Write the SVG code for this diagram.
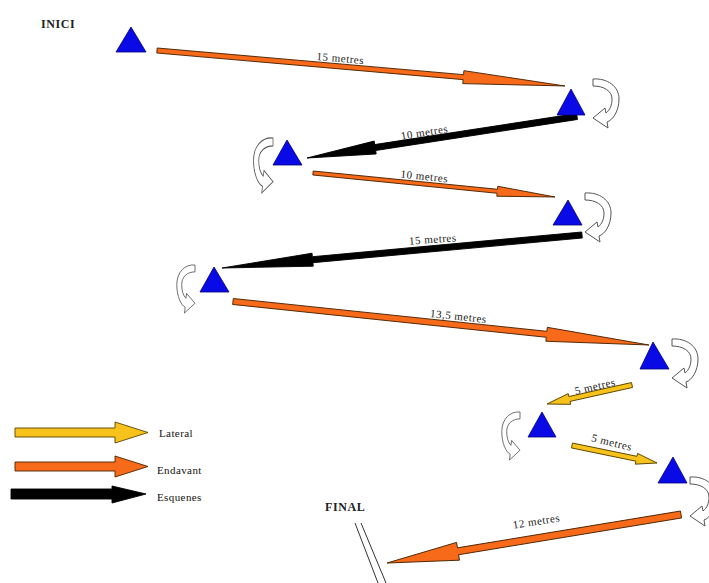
<svg xmlns="http://www.w3.org/2000/svg" width="709" height="583" viewBox="0 0 709 583">
<style>
.tri{fill:#0a0ae6;stroke:#00007a;stroke-width:0.8}
.fwd{fill:#f66a1a;stroke:#4a2200;stroke-width:0.9}
.back{fill:#000;stroke:#000;stroke-width:0.9}
.lat{fill:#f8c21c;stroke:#5a4400;stroke-width:0.9}
.turn{fill:#fff;stroke:#555;stroke-width:1;vector-effect:non-scaling-stroke}
.lbl{font-family:"Liberation Serif","Times New Roman",serif;font-size:11px;letter-spacing:0.5px;fill:#222;text-anchor:middle}
.leg{font-family:"Liberation Serif","Times New Roman",serif;font-size:11px;letter-spacing:0.4px;fill:#111}
.ttl{font-family:"Liberation Serif","Times New Roman",serif;font-size:12px;font-weight:bold;letter-spacing:0.6px;fill:#222}
</style>
<defs>
<path id="turnR" d="M0,0 C14,-1 26,7 26,20 C26,32 20,41 14,43 L15,49 L0,39 L12,29 L13,34 C17,31 19,26 19,20 C19,12 11,7 0,7 Z"/>
</defs>
<rect width="709" height="583" fill="#fff"/>
<text class="ttl" x="41" y="28">INICI</text>
<text class="ttl" x="325" y="511">FINAL</text>
<g id="final-mark" stroke="#333" stroke-width="1">
<line x1="355" y1="523" x2="378" y2="583"/>
<line x1="361" y1="523" x2="386" y2="583"/>
</g>
<g id="connectors">
<polygon class="fwd" transform="translate(157,50.5) rotate(4.97)" points="0,-2.5 307.5,-2.5 307.5,-6.5 409.5,0 307.5,6.5 307.5,2.5 0,2.5"/>
<polygon class="back" transform="translate(577,116.5) rotate(171.26)" points="0,-3 204.2,-3 204.2,-6.5 273.2,0 204.2,6.5 204.2,3 0,3"/>
<polygon class="fwd" transform="translate(313,173) rotate(5.66)" points="0,-2 185.2,-2 185.2,-5 243.2,0 185.2,5 185.2,2 0,2"/>
<polygon class="back" transform="translate(582,235) rotate(174.76)" points="0,-3 270.5,-3 270.5,-6.5 361.5,0 270.5,6.5 270.5,3 0,3"/>
<polygon class="fwd" transform="translate(233,301.5) rotate(5.97)" points="0,-3 315.3,-3 315.3,-7 418.3,0 315.3,7 315.3,3 0,3"/>
<polygon class="lat" transform="translate(632,385) rotate(167.4)" points="0,-2.5 64.1,-2.5 64.1,-5.5 87.1,0 64.1,5.5 64.1,2.5 0,2.5"/>
<polygon class="lat" transform="translate(572,445.5) rotate(11.63)" points="0,-2.5 65.8,-2.5 65.8,-5.5 86.8,0 65.8,5.5 65.8,2.5 0,2.5"/>
<polygon class="fwd" transform="translate(681,514.5) rotate(170.63)" points="0,-3.5 226,-3.5 226,-9 298,0 226,9 226,3.5 0,3.5"/>
<text class="lbl" transform="translate(340,62) rotate(5)">15 metres</text>
<text class="lbl" transform="translate(425,136) rotate(-9)">10 metres</text>
<text class="lbl" transform="translate(424,180) rotate(6)">10 metres</text>
<text class="lbl" transform="translate(433,243) rotate(-4)">15 metres</text>
<text class="lbl" transform="translate(458,320) rotate(6)">13,5 metres</text>
<text class="lbl" transform="translate(596,390) rotate(-13)">5 metres</text>
<text class="lbl" transform="translate(611,446) rotate(14)">5 metres</text>
<text class="lbl" transform="translate(537,525) rotate(-9)">12 metres</text>
</g>
<g id="p1"><polygon class="tri" points="131,27 116,52 146,52"/></g>
<g id="p2"><polygon class="tri" points="571,89 557,115 585,115"/><use href="#turnR" class="turn" transform="translate(593,79)"/></g>
<g id="p3"><polygon class="tri" points="287,140 273,165 302,165"/><use href="#turnR" class="turn" transform="translate(273,138) scale(-0.75,1.12)"/></g>
<g id="p4"><polygon class="tri" points="568,200 553,225 582,225"/><use href="#turnR" class="turn" transform="translate(585,193)"/></g>
<g id="p5"><polygon class="tri" points="214,267 200,292 229,292"/><use href="#turnR" class="turn" transform="translate(195,265) scale(-0.7,0.98)"/></g>
<g id="p6"><polygon class="tri" points="653,342 640,369 669,369"/><use href="#turnR" class="turn" transform="translate(672,339)"/></g>
<g id="p7"><polygon class="tri" points="542,412 528,437 556,437"/><use href="#turnR" class="turn" transform="translate(520,412) scale(-0.7,0.98)"/></g>
<g id="p8"><polygon class="tri" points="673,457 658,483 687,483"/><use href="#turnR" class="turn" transform="translate(690,477)"/></g>
<g id="legend">
<polygon class="lat" points="15,428 115,428 115,422 148,432.5 115,443 115,437 15,437"/>
<text class="leg" x="159" y="437">Lateral</text>
<polygon class="fwd" points="15,462 115,462 115,456 148,466.5 115,477 115,471 15,471"/>
<text class="leg" x="157" y="474">Endavant</text>
<polygon class="back" points="11,489 112,489 112,486 146,494 112,503 112,499 11,499"/>
<text class="leg" x="157" y="501">Esquenes</text>
</g>
</svg>
